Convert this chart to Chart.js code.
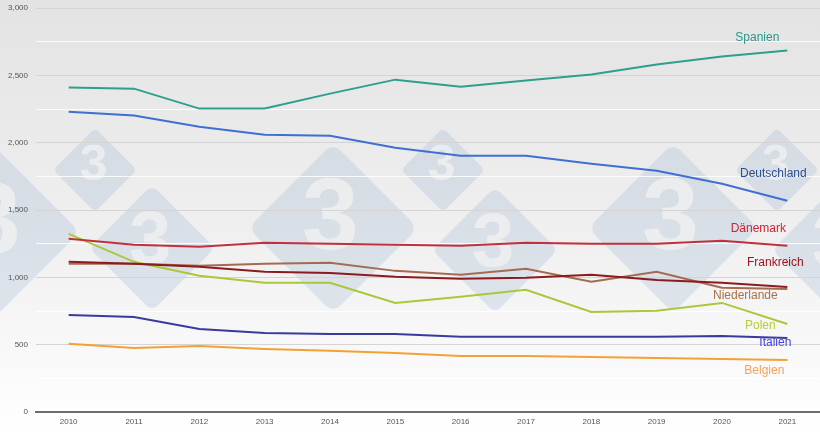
<!DOCTYPE html>
<html>
<head>
<meta charset="utf-8">
<script src="https://cdn.jsdelivr.net/npm/chart.js@4.4.1/dist/chart.umd.min.js"></script>
<style>
  html, body { margin: 0; padding: 0; background: #fff; }
  #wrap { width: 820px; height: 436px; position: relative; }
</style>
</head>
<body>
<div id="wrap"><canvas id="chart"></canvas></div>
<script>
// years on the x axis
const years = ["2010", "2011", "2012", "2013", "2014", "2015", "2016", "2017", "2018", "2019", "2020", "2021"];

// series values
const spanien     = [2409, 2401, 2253, 2253, 2364, 2468, 2416, 2461, 2506, 2580, 2639, 2684];
const deutschland = [2230, 2201, 2119, 2059, 2052, 1963, 1903, 1903, 1844, 1792, 1695, 1569];
const daenemark   = [1286, 1242, 1227, 1257, 1249, 1242, 1234, 1257, 1249, 1249, 1271, 1234];
const frankreich  = [1115, 1100, 1078, 1041, 1033, 1004, 989, 996, 1019, 981, 959, 929];
const niederlande = [1100, 1100, 1086, 1100, 1108, 1048, 1019, 1063, 967, 1041, 922, 914];
const polen       = [1323, 1115, 1011, 959, 959, 810, 855, 907, 743, 751, 810, 654];
const italien     = [721, 706, 617, 587, 580, 580, 558, 558, 558, 558, 565, 550];
const belgien     = [506, 476, 491, 468, 454, 439, 416, 416, 409, 401, 394, 387];

const seriesNames = ["Spanien", "Deutschland", "Dänemark", "Frankreich", "Niederlande", "Polen", "Italien", "Belgien"];

// y axis
const yMin = 0, yMax = 3000, yStep = 250, yLabelStep = 500;

// styles
const lineColors  = ["#2e9f8c", "#3f6fd2", "#c2303e", "#8c1a1e", "#a36c52", "#a9c83a", "#3a3a9e", "#f2a233"];
const labelColors = ["#2e9788", "#2c4f90", "#cc2438", "#a3101e", "#a8714a", "#bccb3a", "#4444e6", "#f2a35a"];
// end label offsets from last point (dx, dy)
const labelOffsets = [[-30, -13], [-14, -27], [-29, -17], [-12, -24], [-42, 7], [-27, 2], [-12, 5], [-23, 11]];

const allData = [spanien, deutschland, daenemark, frankreich, niederlande, polen, italien, belgien];

const datasets = allData.map((d, i) => ({
  label: seriesNames[i],
  data: d,
  borderColor: lineColors[i],
  borderWidth: 2,
  pointRadius: 0,
  tension: 0,
  fill: false
}));

function diamond(ctx, cx, cy, r, k) {
  const p = [[cx, cy - r], [cx + r, cy], [cx, cy + r], [cx - r, cy]];
  ctx.beginPath();
  ctx.moveTo((p[0][0] + p[3][0]) / 2, (p[0][1] + p[3][1]) / 2);
  for (let i = 0; i < 4; i++) {
    const a = p[i], b = p[(i + 1) % 4];
    ctx.arcTo(a[0], a[1], b[0], b[1], k);
  }
  ctx.closePath();
}

// background gradient + "3" watermark diamonds
const backdrop = {
  id: "backdrop",
  beforeDraw(chart) {
    const { ctx, width, height } = chart;
    ctx.save();
    const g = ctx.createLinearGradient(0, 0, 0, height);
    g.addColorStop(0, "#e3e3e3");
    g.addColorStop(0.55, "#f0f0f0");
    g.addColorStop(1, "#ffffff");
    ctx.fillStyle = g;
    ctx.fillRect(0, 0, width, height);

    const marks = [
      [-5, 232, 85], [95, 170, 42], [152, 248, 63],
      [333, 228, 85], [443, 170, 42], [495, 250, 63],
      [673, 228, 85], [777, 170, 42], [835, 250, 63]
    ];
    marks.forEach(([cx, cy, r]) => {
      diamond(ctx, cx, cy, r, r * 0.12);
      ctx.fillStyle = "rgba(150,178,205,0.26)";
      ctx.fill();
      ctx.fillStyle = "rgba(240,240,240,0.8)";
      ctx.font = "bold " + Math.round(r * 1.2) + "px 'Liberation Sans', Arial, sans-serif";
      ctx.textAlign = "center";
      ctx.textBaseline = "middle";
      ctx.fillText("3", cx - r * 0.03, cy - r * 0.08);
    });
    ctx.restore();
  }
};

// country names at the end of each line
const endLabels = {
  id: "endLabels",
  afterDatasetsDraw(chart) {
    const { ctx } = chart;
    ctx.save();
    ctx.font = "12px 'Liberation Sans', Arial, sans-serif";
    ctx.textAlign = "center";
    ctx.textBaseline = "middle";
    chart.data.datasets.forEach((ds, i) => {
      const meta = chart.getDatasetMeta(i);
      const pt = meta.data[meta.data.length - 1];
      ctx.fillStyle = labelColors[i];
      ctx.fillText(ds.label, pt.x + labelOffsets[i][0], pt.y + labelOffsets[i][1]);
    });
    ctx.restore();
  }
};

new Chart(document.getElementById("chart"), {
  type: "line",
  data: { labels: years, datasets: datasets },
  plugins: [backdrop, endLabels],
  options: {
    responsive: true,
    maintainAspectRatio: false,
    animation: false,
    layout: { padding: { top: 0, right: 0, left: 0, bottom: 0 } },
    plugins: {
      legend: { display: false },
      tooltip: { enabled: false }
    },
    scales: {
      x: {
        offset: true,
        grid: { display: false, drawTicks: false },
        border: { display: true, color: "#6e6e6e", width: 2 },
        ticks: {
          color: "#555",
          font: { family: "'Liberation Sans', Arial, sans-serif", size: 8 },
          padding: 5,
          maxRotation: 0
        },
        afterFit(scale) { scale.height = 24; }
      },
      y: {
        min: yMin,
        max: yMax,
        border: { display: false },
        grid: {
          drawTicks: false,
          lineWidth: 1,
          color: c => (c.tick.value % yLabelStep === 0 ? "#d4d4d4" : "rgba(255,255,255,0.85)")
        },
        ticks: {
          stepSize: yStep,
          autoSkip: false,
          padding: 8,
          color: "#555",
          font: { family: "'Liberation Sans', Arial, sans-serif", size: 8 },
          callback: v => (v % yLabelStep === 0 ? v.toLocaleString("en-US") : "")
        },
        afterFit(scale) {
          scale.width = 36;
          scale.paddingTop = 8;
        }
      }
    }
  }
});
</script>
</body>
</html>
